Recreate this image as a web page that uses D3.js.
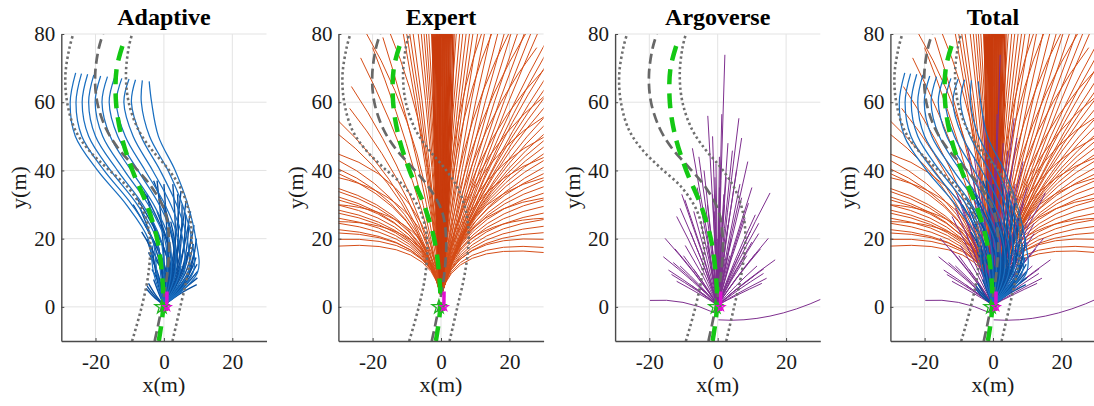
<!DOCTYPE html>
<html><head><meta charset="utf-8">
<script src="https://cdn.jsdelivr.net/npm/d3@7/dist/d3.min.js"></script>
<style>html,body{margin:0;padding:0;background:#fff;overflow:hidden}</style>
</head><body>
<svg id="chart" width="1094" height="406"></svg>
<script>
// ---------------- data ----------------
const panels = ["Adaptive", "Expert", "Argoverse", "Total"];
const xTicks = [-20, 0, 20];
const yTicks = [0, 20, 40, 60, 80];
const xDomain = [-30, 30];
const yDomain = [-10, 80];
const xLabel = "x(m)";
const yLabel = "y(m)";

// road geometry (y levels and x positions)
const roadLevels  = [-10, 0, 10, 20, 28, 35, 41, 46, 52, 60, 68, 76, 80];
const roadCenterX = [-2.7, -0.6, 1.0, 1.5, 0.3, -3.5, -8.5, -13.0, -16.8, -19.5, -20.1, -19.0, -17.8];
const roadLeftX   = [-9.3, -6.5, -4.5, -4.1, -6.0, -10.5, -17.0, -22.0, -26.0, -28.3, -28.8, -27.6, -26.5];
const roadRightX  = [2.5, 4.8, 7.0, 8.1, 7.3, 4.8, 0.8, -3.5, -7.5, -10.3, -11.1, -10.3, -9.3];
const refLevels   = [-10, 0, 10, 20, 30, 40, 50, 60, 70, 77.5];
const refX        = [-1.5, -0.2, -0.6, -2.0, -5.0, -9.2, -12.4, -14.0, -13.8, -11.8];

// Adaptive: long S-shaped trajectories (x at each level, then the end point)
const adaptiveLevels = [0.5, 10, 20, 30, 40, 50, 60];
const adaptiveLongX = [
  [0, -3.0, -4.6, -11.0, -19.4, -25.9, -27.4],
  [0, -2.0, -3.4, -9.4, -17.5, -24.0, -25.7],
  [0, -1.0, -2.2, -7.8, -15.6, -22.0, -23.9],
  [0,  0.0, -1.0, -6.2, -13.6, -20.0, -22.0],
  [0,  1.0,  0.2, -4.6, -11.6, -17.9, -20.1],
  [0,  2.1,  1.5, -3.0,  -9.6, -15.7, -18.1],
  [0,  3.3,  2.8, -1.4,  -7.6, -13.5, -16.0],
  [0,  4.6,  4.2,  0.3,  -5.5, -11.3, -13.9],
  [0,  5.9,  5.5,  2.0,  -3.3,  -9.0, -11.7],
  [0,  7.1,  6.8,  3.7,  -1.1,  -6.7,  -9.5],
  [0,  8.5,  8.1,  5.4,   1.2,  -4.2,  -6.6],
  [0,  9.8,  9.3,  7.0,   3.3,  -1.6,  -3.6]
];
const adaptiveTopX = [-25.8, -24.1, -22.3, -20.5, -18.5, -16.5, -14.4, -12.3, -10.2, -8.3, -6.3, -4.3];
const adaptiveTopY = [68.6, 68.4, 68.2, 68.0, 67.7, 67.5, 67.3, 67.0, 66.8, 66.6, 66.4, 66.1];
// Adaptive: shorter trajectories [midX, midY, endX, endY]
const adaptiveShort = [
  [5.0, 4.0, 9.6, 6.5], [5.5, 5.0, 9.8, 8.5], [6.0, 6.0, 9.9, 10.5], [6.3, 7.0, 9.7, 12.5],
  [6.5, 8.0, 9.4, 14.5], [6.5, 9.0, 9.0, 16.5], [6.3, 10.0, 8.6, 18.5], [6.0, 11.0, 8.0, 21.0],
  [5.6, 12.0, 7.3, 24.0], [5.0, 13.0, 6.4, 27.0], [4.4, 14.0, 5.3, 30.0], [3.8, 15.0, 4.0, 33.0],
  [3.2, 16.0, 2.6, 36.0], [-3.0, 3.0, -5.2, 5.4], [-2.8, 3.3, -4.9, 6.1], [-2.5, 3.6, -4.5, 6.9],
  [2.5, 12, -2, 28], [3.5, 13, 0, 30], [1.5, 12, -4, 26], [0.5, 11, -5.5, 24], [-0.5, 10, -6.5, 22],
  [-1.5, 9, -4.5, 16], [4, 10, 2, 25], [4.5, 9, 4, 20], [2.5, 8, 1, 16], [1, 7, -2.5, 14],
  [3, 6, 5, 12], [-1, 6, -3.5, 11], [1, 14, -8, 32], [2, 15, -6, 34], [3, 16, -3, 37], [0, 12, -9, 30],
  [7, 9, 9.5, 20], [6, 12, 8.8, 24], [5, 14, 7.8, 28], [4, 16, 6.5, 31], [3, 17, 5, 34],
  [1, 16, 0, 36], [0, 15, -2, 37], [-1, 14, -5, 33], [-1, 12, -7, 29], [-2, 10, -5, 20],
  [-2, 8, -3.5, 18], [2, 6, 3, 10], [4, 5, 6, 8], [0, 5, 0.5, 10], [-1.5, 4, -3, 8],
  [6, 8, 8.5, 12], [5, 10, 7, 16], [1.5, 9, 1, 22], [3, 9, 3, 19], [-0.5, 11, -3, 24]
];

// Expert: [endX, endY, ctrlX, ctrlY], all starting at the apex
const expertApex = [0, 3];
const expertCenterX = [-2.6, -2.3, -2.0, -1.7, -1.4, -1.1, -0.8, -0.5, -0.2, 0.1, 0.4, 0.7, 1.0, 1.3,
  1.6, 1.9, 2.2, 2.5, 2.8, 3.1, 3.5, 3.9, -0.3, 0.6, 1.2, 1.8, 2.4, -1.2];
const expertTop = [
  [-11.1, 80.5, -3.5, 40], [-10.1, 80.5, -3.2, 40], [-9.2, 80.5, -2.8, 40], [-8.2, 80.5, -2.5, 40],
  [-6.7, 80.5, -2, 40], [-5.8, 80.5, -1.8, 40], [-5, 80.5, -1.5, 40], [-4.3, 80.5, -1.3, 40],
  [-3.6, 80.5, -1.1, 40], [-2.8, 80.5, -0.8, 40],
  [4.5, 80.5, 1.5, 40], [5.5, 80.5, 1.8, 40], [6.4, 80.5, 2, 40], [7.4, 80.5, 2.4, 40],
  [8.4, 80.5, 2.8, 40], [9.4, 80.5, 3.2, 40], [10.8, 80.5, 3.8, 40], [12.8, 80.5, 4.5, 40],
  [14.7, 80.5, 5.2, 40], [16.7, 80.5, 6, 40], [18.6, 80.5, 6.8, 40], [20.6, 80.5, 7.5, 40],
  [22.5, 80.5, 8.2, 40], [24.5, 80.5, 9, 40], [26.4, 80.5, 9.8, 40], [28.4, 80.5, 10.5, 40],
  [25, 80.5, 4, 46], [20, 80.5, 3, 48], [15, 80.5, 2, 50], [12, 80.5, 1.5, 52],
  [-22, 80.5, -3, 48], [-15, 80.5, -2, 50]
];
const expertRight = [
  [30.5, 77.3, 11, 42], [30.5, 73.9, 11, 40], [30.5, 70.5, 10, 38], [30.5, 67, 10, 36],
  [30.5, 64.1, 9, 35], [30.5, 61.7, 9, 34], [30.5, 58.8, 8, 33], [30.5, 55.9, 8, 32],
  [30.5, 53.5, 7, 31], [30.5, 51, 7, 31], [30.5, 49.1, 6, 30], [30.5, 47.2, 6, 30],
  [30.5, 45.2, 5, 29], [30.5, 43.2, 5, 29], [30.5, 41.2, 5, 28], [30.5, 39.3, 4, 28],
  [30.5, 37.3, 4, 27], [30.5, 35.4, 4, 27], [30.5, 33.5, 3.5, 26], [30.5, 31.5, 3.5, 25],
  [30.5, 29.6, 3, 24], [30.5, 27.6, 3, 23], [30.5, 25.7, 3, 22], [30.5, 23.7, 2.5, 21],
  [30.5, 21.8, 2.5, 20.5], [30.5, 19.8, 3, 21.5], [30.5, 17.4, 3, 20], [30.5, 15.9, 3, 19],
  [30.5, 70, 6, 45], [30.5, 62, 5, 42], [30.5, 56, 4, 40], [30.5, 50, 4, 37], [30.5, 44, 3, 34],
  [30.5, 38, 3, 31], [30.5, 32, 2.5, 28], [30.5, 26, 2, 25], [28, 76, 5, 46]
];
const expertLeft = [
  [-30.5, 51, -8, 34], [-30.5, 43.2, -6, 31], [-30.5, 40.7, -6, 30], [-30.5, 39.3, -5, 29],
  [-30.5, 34.9, -4.5, 27], [-30.5, 34, -4, 26], [-30.5, 32.4, -4, 25], [-30.5, 31.5, -3.5, 25],
  [-30.5, 30, -3.5, 24], [-30.5, 28.5, -3, 23], [-30.5, 27.6, -3, 22.5], [-30.5, 26.1, -3, 22],
  [-30.5, 24.6, -2.5, 21], [-30.5, 22.7, -2.5, 20.5], [-30.5, 21.7, -2.5, 21], [-30.5, 19.8, -2.5, 21],
  [-30.5, 17.8, -2.5, 20],
  [-23.5, 73, -5, 36], [-26.2, 64.6, -6, 34], [-26.7, 58.2, -6, 32], [-30.5, 55, -7, 33],
  [-20, 76, -5, 38], [-17, 79, -4, 38],
  [-30.5, 45, -3, 36], [-30.5, 38, -2.5, 32], [-30.5, 30, -2, 28], [-30.5, 25, -2, 25]
];

// Argoverse: end points of the (nearly straight) predictions from the origin
const argoEnds = [
  [2.1, 73.9], [-2.9, 56], [1.2, 56.5], [6.2, 55.3], [7, 49.5], [8.8, 42.6], [4.3, 45.8], [-7.4, 46.5],
  [3, 48], [-1.5, 50], [0.5, 44], [5.5, 40], [-4, 40], [2.5, 38], [-0.5, 42],
  [15.3, 33.4], [16.8, 13.8], [14.8, 20.1], [14.3, 8.4], [12.9, 6.9], [13.4, 9.8], [12, 24.5],
  [9, 30.4], [10, 35], [11, 27], [12.5, 17], [11.5, 12], [10, 19], [9.5, 22], [8, 26], [7, 32],
  [13.5, 11.2], [6.5, 36], [11, 15.5], [10.5, 9], [8.5, 15], [12, 21.5],
  [-15.4, 20.1], [-15.9, 14.7], [-14.4, 10.8], [-12, 26.5], [-11, 28.9], [-9.6, 31.4], [-10.5, 33],
  [-13.5, 9.5], [-12.5, 17], [-11, 12], [-13, 13], [-8, 22], [-9.5, 18], [-7, 28], [-6, 35],
  [-5.5, 44], [-10, 15], [-7, 11], [-5, 25], [-3, 30], [-12, 7.5], [-8, 6.5],
  [0, 20], [1, 25], [-1, 28], [2, 30], [-2, 22], [0.5, 35], [1.5, 18], [-0.5, 15], [3, 24],
  [-1.5, 33], [2, 14], [0.8, 40], [-0.8, 38], [1.8, 33], [4, 20], [-3, 18], [3.5, 15], [-2, 12]
];
// Argoverse: two long near-horizontal curves [startX, startY, ctrlX, ctrlY, endX, endY]
const argoCurves = [
  [-0.8, -1.8, -10, 2.6, -19.8, 1.9],
  [0.2, -3.8, 15, -4.8, 31, 2.6]
];

// ---------------- drawing ----------------
const FONT = '"Liberation Serif"';
const svg = d3.select("#chart");
const defs = svg.append("defs");
const panelLeft = [61.3, 338.4, 615.1, 890.4];
const PW = 205.2, PT = 34, PB = 341;
const C_BLUE = "#1a6fc0", C_BLUE_D = "#0a4f9e", C_RED = "#d54d17", C_RED_D = "#c93b0c", C_PURP = "#7E2F8E";

function quad(xs, ys, p0, c, p1) {
  const p = d3.path();
  p.moveTo(xs(p0[0]), ys(p0[1]));
  p.quadraticCurveTo(xs(c[0]), ys(c[1]), xs(p1[0]), ys(p1[1]));
  return p.toString();
}

function drawExpert(g, xs, ys) {
  const gg = g.append("g").attr("fill", "none").attr("stroke", C_RED).attr("stroke-width", 1.0);
  expertLeft.concat(expertRight, expertTop).forEach(d => {
    gg.append("path").attr("d", quad(xs, ys, expertApex, [d[2], d[3]], [d[0], d[1]]));
  });
  expertCenterX.forEach(x => {
    gg.append("path").attr("stroke", C_RED_D).attr("stroke-width", 1.3)
      .attr("d", quad(xs, ys, expertApex, [x * 0.7, 22], [x, 84]));
  });
}

function drawArgo(g, xs, ys) {
  const gg = g.append("g").attr("fill", "none").attr("stroke", C_PURP).attr("stroke-width", 1);
  argoEnds.forEach(d => {
    gg.append("path").attr("d", quad(xs, ys, [0, 0.5], [d[0] * 0.42, d[1] * 0.5], d));
  });
  argoCurves.forEach(d => {
    gg.append("path").attr("d", quad(xs, ys, [d[0], d[1]], [d[2], d[3]], [d[4], d[5]]));
  });
}

function drawAdaptive(g, xs, ys) {
  const line = d3.line().x(d => xs(d[0])).y(d => ys(d[1])).curve(d3.curveCatmullRom.alpha(0.5));
  const gg = g.append("g").attr("fill", "none");
  adaptiveShort.forEach(s => {
    gg.append("path").attr("stroke", C_BLUE_D).attr("stroke-width", 1.4)
      .attr("d", line([[0, 0.5], [s[0], s[1]], [s[2], s[3]]]));
  });
  adaptiveLongX.forEach((row, i) => {
    const pts = row.map((x, j) => [x, adaptiveLevels[j]]);
    pts.push([adaptiveTopX[i], adaptiveTopY[i]]);
    gg.append("path").attr("stroke", C_BLUE).attr("stroke-width", 1.25).attr("d", line(pts));
  });
}

panels.forEach((title, i) => {
  const L = panelLeft[i];
  const xs = d3.scaleLinear().domain(xDomain).range([L, L + PW]);
  const ys = d3.scaleLinear().domain(yDomain).range([PB, PT]);
  const g = svg.append("g");

  defs.append("clipPath").attr("id", "clip" + i).append("rect")
    .attr("x", xs(xDomain[0])).attr("y", ys(yDomain[1]))
    .attr("width", xs(xDomain[1]) - xs(xDomain[0])).attr("height", ys(yDomain[0]) - ys(yDomain[1]));

  // grid
  const grid = g.append("g").attr("stroke", "#e3e3e3").attr("stroke-width", 1);
  xTicks.forEach(t => grid.append("line").attr("x1", xs(t)).attr("x2", xs(t)).attr("y1", ys(yDomain[0])).attr("y2", ys(yDomain[1])));
  yTicks.forEach(t => grid.append("line").attr("x1", xs(xDomain[0])).attr("x2", xs(xDomain[1])).attr("y1", ys(t)).attr("y2", ys(t)));

  const plot = g.append("g").attr("clip-path", `url(#clip${i})`);
  if (title === "Adaptive") drawAdaptive(plot, xs, ys);
  if (title === "Expert") drawExpert(plot, xs, ys);
  if (title === "Argoverse") drawArgo(plot, xs, ys);
  if (title === "Total") { drawExpert(plot, xs, ys); drawArgo(plot, xs, ys); drawAdaptive(plot, xs, ys); }

  // road lines
  const rl = d3.line().x(d => xs(d[0])).y(d => ys(d[1])).curve(d3.curveCatmullRom.alpha(0.5));
  [roadLeftX, roadRightX].forEach(arr => {
    plot.append("path").attr("d", rl(roadLevels.map((y, k) => [arr[k], y])))
      .attr("fill", "none").attr("stroke", "#6f6f6f").attr("stroke-width", 2.6)
      .attr("stroke-dasharray", "2.4,2.8");
  });
  plot.append("path").attr("d", rl(roadLevels.map((y, k) => [roadCenterX[k], y])))
    .attr("fill", "none").attr("stroke", "#686868").attr("stroke-width", 2.7)
    .attr("stroke-dasharray", "10,5");
  plot.append("path").attr("d", rl(refLevels.map((y, k) => [refX[k], y])))
    .attr("fill", "none").attr("stroke", "#14c814").attr("stroke-width", 4.5)
    .attr("stroke-dasharray", "15,9");

  // ego markers
  plot.append("line").attr("x1", xs(0.8)).attr("x2", xs(0.9)).attr("y1", ys(-1.2)).attr("y2", ys(4.5))
    .attr("stroke", "#e010d0").attr("stroke-width", 3.5);
  plot.append("path").attr("d", d3.symbol(d3.symbolStar, 60)())
    .attr("transform", `translate(${xs(-0.6)},${ys(0)})`)
    .attr("fill", "none").attr("stroke", "#22b522").attr("stroke-width", 1.3);
  plot.append("path").attr("d", d3.symbol(d3.symbolStar, 22)())
    .attr("transform", `translate(${xs(0.9)},${ys(0)})`)
    .attr("fill", "none").attr("stroke", "#e010d0").attr("stroke-width", 1.2);

  // axes
  const ax = g.append("g").attr("transform", `translate(0,${PB})`)
    .call(d3.axisBottom(xs).tickValues(xTicks).tickFormat(d => String(d))
      .tickSizeInner(-3).tickSizeOuter(0).tickPadding(13));
  const ay = g.append("g").attr("transform", `translate(${L},0)`)
    .call(d3.axisLeft(ys).tickValues(yTicks).tickFormat(d => String(d))
      .tickSizeInner(-3).tickSizeOuter(0).tickPadding(6));
  [ax, ay].forEach(a => {
    a.attr("font-family", null).attr("font-size", null);
    a.select(".domain").attr("stroke", "#4a4a4a").attr("stroke-width", 1.4);
    a.selectAll(".tick line").attr("stroke", "#4a4a4a");
    a.selectAll(".tick text").attr("fill", "#1a1a1a")
      .style("font-family", FONT).style("font-size", "21px");
  });

  // labels
  g.append("text").attr("x", L + PW / 2).attr("y", 25).attr("text-anchor", "middle")
    .style("font-family", FONT).style("font-size", "24px").style("font-weight", "bold").attr("fill", "#000")
    .text(title);
  g.append("text").attr("x", L + PW / 2).attr("y", 392).attr("text-anchor", "middle")
    .style("font-family", FONT).style("font-size", "22px").attr("fill", "#1a1a1a").text(xLabel);
  g.append("text").attr("transform", `translate(${L - 35},${(PT + PB) / 2}) rotate(-90)`)
    .attr("text-anchor", "middle").style("font-family", FONT).style("font-size", "22px").attr("fill", "#1a1a1a")
    .text(yLabel);
});
</script>
</body></html>
